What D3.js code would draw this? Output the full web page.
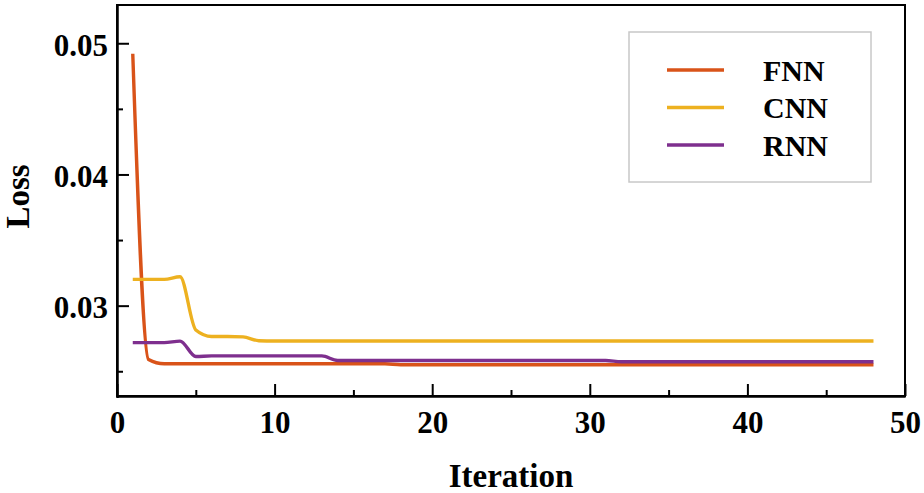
<!DOCTYPE html>
<html>
<head>
<meta charset="utf-8">
<script src="https://cdn.jsdelivr.net/npm/d3@7"></script>
<style>
  html, body { margin: 0; padding: 0; background: #fff; }
  svg { display: block; }
  text { font-family: "Liberation Serif", "Times New Roman", serif; font-weight: bold; fill: #000; }
</style>
</head>
<body>
<svg id="chart" width="924" height="493"></svg>
<script>
// ---- data ----
const iterations = [1,2,3,4,5,6,7,8,9,10,11,12,13,14,15,16,17,18,19,20,21,22,23,24,25,26,27,28,29,30,31,32,33,34,35,36,37,38,39,40,41,42,43,44,45,46,47,48];
const fnn = [0.0492,0.0259,0.02557,0.02557,0.02557,0.02557,0.02557,0.02557,0.02557,0.02557,0.02557,0.02557,0.02557,0.02557,0.02557,0.02557,0.02557,0.0255,0.0255,0.0255,0.0255,0.0255,0.0255,0.0255,0.0255,0.0255,0.0255,0.0255,0.0255,0.0255,0.0255,0.0255,0.0255,0.0255,0.0255,0.0255,0.0255,0.0255,0.0255,0.0255,0.0255,0.0255,0.0255,0.0255,0.0255,0.0255,0.0255,0.0255];
const cnn = [0.0320,0.0320,0.0320,0.0322,0.02815,0.02765,0.02765,0.02762,0.02733,0.02731,0.02731,0.02731,0.02731,0.02731,0.02731,0.02731,0.02731,0.02731,0.02731,0.02731,0.02731,0.02731,0.02731,0.02731,0.02731,0.02731,0.02731,0.02731,0.02731,0.02731,0.02731,0.02731,0.02731,0.02731,0.02731,0.02731,0.02731,0.02731,0.02731,0.02731,0.02731,0.02731,0.02731,0.02731,0.02731,0.02731,0.02731,0.02731];
const rnn = [0.02718,0.02718,0.02718,0.0273,0.02612,0.02617,0.02617,0.02617,0.02617,0.02617,0.02617,0.02617,0.02617,0.02582,0.02582,0.02582,0.02582,0.02582,0.02582,0.02582,0.02582,0.02582,0.02582,0.02582,0.02582,0.02582,0.02582,0.02582,0.02582,0.02582,0.02582,0.02573,0.02573,0.02573,0.02573,0.02573,0.02573,0.02573,0.02573,0.02573,0.02573,0.02573,0.02573,0.02573,0.02573,0.02573,0.02573,0.02573];
const seriesNames = ["FNN", "CNN", "RNN"];
const seriesColors = ["#D95319", "#EDB120", "#7E2F8E"];
const xTicks = [0, 10, 20, 30, 40, 50];
const xMinorTicks = [5, 15, 25, 35, 45];
const yTicks = [0.03, 0.04, 0.05];
const yMinorTicks = [0.025, 0.035, 0.045];

// ---- layout ----
const L = 117, R = 905, T = 5, B = 396;
const svg = d3.select("#chart");
const x = d3.scaleLinear().domain([0, 50]).range([L, R]);
const y = d3.scaleLinear().domain([0.023, 0.053]).range([397.5, 3.9]);

// frame (top and right)
svg.append("rect").attr("x", L).attr("y", T).attr("width", R - L).attr("height", B - T)
  .attr("fill", "none").attr("stroke", "#000").attr("stroke-width", 2);

// lines
const series = [fnn, cnn, rnn];
svg.append("clipPath").attr("id", "clip").append("rect")
  .attr("x", L).attr("y", T).attr("width", R - L).attr("height", B - T);
const line = d3.line().x((d, i) => x(iterations[i])).y(d => y(d)).curve(d3.curveMonotoneX);
series.forEach((s, k) => {
  svg.append("path").datum(s).attr("d", line)
    .attr("fill", "none").attr("stroke", seriesColors[k]).attr("stroke-width", 3.4)
    .attr("stroke-linejoin", "round").attr("clip-path", "url(#clip)");
});

// axes
const fontSize = 31;
svg.append("g").attr("transform", `translate(0,${B})`)
  .call(d3.axisBottom(x).tickValues(xTicks).tickFormat(d3.format("d")).tickSizeInner(-12).tickSizeOuter(0).tickPadding(15));
svg.append("g").attr("transform", `translate(0,${B})`)
  .call(d3.axisBottom(x).tickValues(xMinorTicks).tickFormat("").tickSizeInner(-6).tickSizeOuter(0));
const yAxis = svg.append("g").attr("transform", `translate(${L},0)`)
  .call(d3.axisLeft(y).tickValues(yTicks).tickFormat(d3.format(".2f")).tickSizeInner(-12).tickSizeOuter(0).tickPadding(9));
svg.append("g").attr("transform", `translate(${L},0)`)
  .call(d3.axisLeft(y).tickValues(yMinorTicks).tickFormat("").tickSizeInner(-6).tickSizeOuter(0));

svg.selectAll(".domain").attr("stroke", "#000").attr("stroke-width", 2);
svg.selectAll(".tick line").attr("stroke", "#000").attr("stroke-width", 2);
svg.selectAll(".tick text").attr("font-family", "Liberation Serif, Times New Roman, serif")
  .attr("font-weight", "bold").attr("font-size", fontSize).attr("fill", "#000");
yAxis.selectAll(".tick text").attr("dy", "0.39em");

// axis titles
svg.append("text").attr("x", (L + R) / 2).attr("y", 487).attr("text-anchor", "middle")
  .attr("font-size", 33).text("Iteration");
svg.append("text").attr("transform", `translate(29,${(T + B) / 2 - 4}) rotate(-90)`)
  .attr("text-anchor", "middle").attr("font-size", 33).text("Loss");

// legend
const lg = svg.append("g");
lg.append("rect").attr("x", 629).attr("y", 32).attr("width", 242).attr("height", 150)
  .attr("fill", "#fff").attr("stroke", "#c8c8c8").attr("stroke-width", 1.5);
seriesNames.forEach((name, k) => {
  const ly = 70 + k * 37.5;
  lg.append("line").attr("x1", 667).attr("x2", 724).attr("y1", ly).attr("y2", ly)
    .attr("stroke", seriesColors[k]).attr("stroke-width", 3.4);
  lg.append("text").attr("x", 763).attr("y", ly + 10.5).attr("font-size", 30).text(name);
});
</script>
</body>
</html>
